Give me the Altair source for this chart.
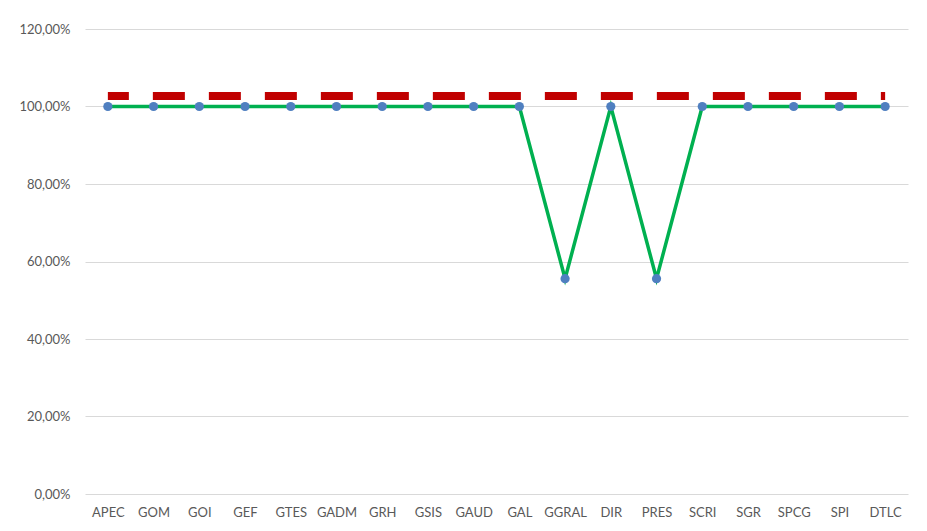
import altair as alt
import pandas as pd

categories = ["APEC", "GOM", "GOI", "GEF", "GTES", "GADM", "GRH", "GSIS", "GAUD",
              "GAL", "GGRAL", "DIR", "PRES", "SCRI", "SGR", "SPCG", "SPI", "DTLC"]
actual = [1.0, 1.0, 1.0, 1.0, 1.0, 1.0, 1.0, 1.0, 1.0,
          1.0, 0.5556, 1.0, 0.5556, 1.0, 1.0, 1.0, 1.0, 1.0]
target = [1.027] * len(categories)
y_ticks = [0, 0.2, 0.4, 0.6, 0.8, 1.0, 1.2]

df = pd.DataFrame({"cat": categories, "actual": actual, "target": target})

FONT = "Lato"
xenc = alt.X("cat:N", sort=categories, title=None,
             scale=alt.Scale(paddingInner=0, paddingOuter=0),
             axis=alt.Axis(labelAngle=0, ticks=False, domain=False, grid=False,
                           labelFont=FONT, labelFontSize=13, labelColor="#595959",
                           labelPadding=12))
yscale = alt.Scale(domain=[0, 1.2], nice=False)

base = alt.Chart(df)

target_line = base.mark_line(color="#c00000", strokeWidth=8,
                             strokeDash=[32, 24], strokeDashOffset=11,
                             strokeCap="butt").encode(
    x=xenc,
    y=alt.Y("target:Q", scale=yscale, title=None,
            axis=alt.Axis(values=y_ticks, domain=False, ticks=False,
                          gridColor="#d9d9d9", gridWidth=1,
                          labelExpr="replace(format(datum.value, '.2%'), '.', ',')",
                          labelFont=FONT, labelFontSize=13, labelColor="#595959",
                          labelPadding=15)),
)

actual_line = base.mark_line(color="#00b050", strokeWidth=3.5).encode(
    x=xenc, y=alt.Y("actual:Q", scale=yscale))

points = base.mark_point(filled=True, color="#4f7fc0", size=85, opacity=1).encode(
    x=xenc, y=alt.Y("actual:Q", scale=yscale))

chart = alt.layer(target_line, actual_line, points).properties(
    width=823, height=465,
    autosize=alt.AutoSizeParams(type="none"),
    padding={"left": 77, "top": 21, "right": 10, "bottom": 30},
    view=alt.ViewBackground(strokeOpacity=0, strokeWidth=0),
).configure_view(strokeOpacity=0, strokeWidth=0).configure_axisX(grid=False).configure(background="white")

chart.save("out.html", embed_options={"renderer": "svg", "actions": False})
